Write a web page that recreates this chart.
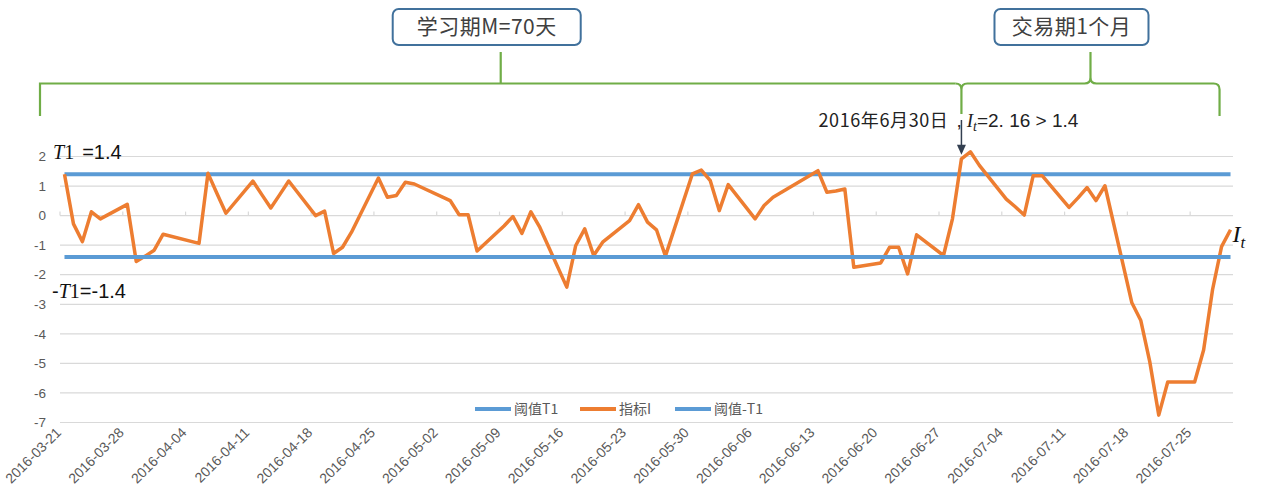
<!DOCTYPE html>
<html>
<head>
<meta charset="utf-8">
<script src="https://cdn.jsdelivr.net/npm/d3@7"></script>
<style>
  body { margin: 0; background: #fff; }
  text { font-family: 'Liberation Sans', 'Noto Sans CJK SC', sans-serif; }
  .cjk { font-family: 'Noto Sans CJK SC', sans-serif; }
  .math { font-family: 'Liberation Serif', 'DejaVu Serif', serif; }
</style>
</head>
<body>
<div id="d3-container"></div>
<script>
// trading days shown on the chart
const dates = [
  '2016-03-21', '2016-03-22', '2016-03-23', '2016-03-24', '2016-03-25',
  '2016-03-28', '2016-03-29', '2016-03-30', '2016-03-31', '2016-04-01',
  '2016-04-05', '2016-04-06', '2016-04-07', '2016-04-08',
  '2016-04-11', '2016-04-12', '2016-04-13', '2016-04-14', '2016-04-15',
  '2016-04-18', '2016-04-19', '2016-04-20', '2016-04-21', '2016-04-22',
  '2016-04-25', '2016-04-26', '2016-04-27', '2016-04-28', '2016-04-29',
  '2016-05-03', '2016-05-04', '2016-05-05', '2016-05-06',
  '2016-05-09', '2016-05-10', '2016-05-11', '2016-05-12', '2016-05-13',
  '2016-05-16', '2016-05-17', '2016-05-18', '2016-05-19', '2016-05-20',
  '2016-05-23', '2016-05-24', '2016-05-25', '2016-05-26', '2016-05-27',
  '2016-05-30', '2016-05-31', '2016-06-01', '2016-06-02', '2016-06-03',
  '2016-06-06', '2016-06-07', '2016-06-08',
  '2016-06-13', '2016-06-14', '2016-06-15', '2016-06-16', '2016-06-17',
  '2016-06-20', '2016-06-21', '2016-06-22', '2016-06-23', '2016-06-24',
  '2016-06-27', '2016-06-28', '2016-06-29', '2016-06-30', '2016-07-01',
  '2016-07-04', '2016-07-05', '2016-07-06', '2016-07-07', '2016-07-08',
  '2016-07-11', '2016-07-12', '2016-07-13', '2016-07-14', '2016-07-15',
  '2016-07-18', '2016-07-19', '2016-07-20', '2016-07-21', '2016-07-22',
  '2016-07-25', '2016-07-26', '2016-07-27', '2016-07-28', '2016-07-29',
]

// 指标I
const indexValues = [
  1.40, -0.28, -0.88, 0.13, -0.11,
  0.38, -1.55, -1.37, -1.17, -0.63,
  -0.94, 1.43, 0.75, 0.08,
  1.17, 0.71, 0.26, 0.71, 1.17,
  0.00, 0.15, -1.28, -1.07, -0.56,
  1.27, 0.62, 0.68, 1.13, 1.07,
  0.51, 0.03, 0.03, -1.20,
  -0.35, -0.03, -0.60, 0.13, -0.40,
  -2.42, -1.01, -0.45, -1.35, -0.90,
  -0.17, 0.37, -0.22, -0.48, -1.37,
  1.41, 1.54, 1.18, 0.17, 1.05,
  -0.11, 0.34, 0.62,
  1.52, 0.79, 0.83, 0.90, -1.75,
  -1.60, -1.07, -1.07, -1.97, -0.65,
  -1.35, -0.11, 1.92, 2.16, 1.70,
  0.56, 0.30, 0.02, 1.35, 1.35,
  0.28, 0.60, 0.95, 0.51, 1.01,
  -2.95, -3.55, -4.95, -6.75, -5.63,
  -5.63, -4.55, -2.50, -1.05, -0.48,
]

const threshold = 1.4
const seriesNames = ['阈值T1', '指标I', '阈值-T1']
const seriesColors = ['#5B9BD5', '#ED7D31', '#5B9BD5']
const yTicks = [2, 1, 0, -1, -2, -3, -4, -5, -6, -7]
const xTickLabels = [
  '2016-03-21', '2016-03-28', '2016-04-04', '2016-04-11', '2016-04-18',
  '2016-04-25', '2016-05-02', '2016-05-09', '2016-05-16', '2016-05-23',
  '2016-05-30', '2016-06-06', '2016-06-13', '2016-06-20', '2016-06-27',
  '2016-07-04', '2016-07-11', '2016-07-18', '2016-07-25',
]
const axisStart = '2016-03-21'
const axisEnd = '2016-07-30'
const learnLabel = '学习期M=70天'
const tradeLabel = '交易期1个月'
const signalDate = '2016-06-29'
const tradeEnd = '2016-07-28'

const params = {
  width: 1261,
  height: 501,
  left: 60,
  right: 1235,
  top: 156.5,
  bottom: 422.5,
}

const parse = d3.utcParse('%Y-%m-%d')
const halfDay = 12 * 3600 * 1000

function buildSeries() {
  const pts = dates.map((d, i) => ({ date: parse(d), value: indexValues[i] }))
  return [
    pts.map(p => ({ date: p.date, value: threshold })),
    pts,
    pts.map(p => ({ date: p.date, value: -threshold })),
  ]
}

function xScale() {
  return d3
    .scaleUtc()
    .domain([parse(axisStart), parse(axisEnd)])
    .range([params.left, params.right])
}

function yScale() {
  return d3
    .scaleLinear()
    .domain([-7, 2])
    .range([params.bottom, params.top])
}

function drawChart() {
  const svg = d3
    .select('#d3-container')
    .append('svg')
    .attr('width', params.width)
    .attr('height', params.height)
    .attr('viewBox', [0, 0, params.width, params.height])

  const x = xScale()
  const y = yScale()
  const xc = d => x(new Date(+d + halfDay))

  addGrid(svg, x, y)
  addLegend(svg)
  addLines(svg, buildSeries(), xc, y)
  addAnnotations(svg, x, xc, y)
}

function addGrid(svg, x, y) {
  svg
    .append('g')
    .selectAll('line')
    .data(yTicks)
    .join('line')
    .attr('x1', params.left)
    .attr('x2', params.right - 2)
    .attr('y1', d => y(d))
    .attr('y2', d => y(d))
    .attr('stroke', '#D9D9D9')
    .attr('stroke-width', 1.2)

  svg
    .append('g')
    .selectAll('text')
    .data(yTicks)
    .join('text')
    .attr('x', params.left - 14)
    .attr('y', d => y(d))
    .attr('dy', '0.35em')
    .attr('text-anchor', 'end')
    .attr('font-size', 13.5)
    .attr('fill', '#595959')
    .text(d => d)

  const ticks = xTickLabels.map(parse)

  svg
    .append('g')
    .selectAll('line')
    .data(ticks)
    .join('line')
    .attr('x1', d => x(d))
    .attr('x2', d => x(d))
    .attr('y1', y(0) - 4)
    .attr('y2', y(0))
    .attr('stroke', '#D9D9D9')
    .attr('stroke-width', 1.2)

  svg
    .append('g')
    .selectAll('text')
    .data(ticks)
    .join('text')
    .attr('transform', d => `translate(${x(d) + 2}, ${params.bottom + 11}) rotate(-45)`)
    .attr('text-anchor', 'end')
    .attr('font-size', 14)
    .attr('fill', '#595959')
    .text((d, i) => xTickLabels[i])
}

function addLines(svg, series, xc, y) {
  const line = d3
    .line()
    .x(d => xc(d.date))
    .y(d => y(d.value))

  svg
    .append('g')
    .selectAll('path')
    .data(series)
    .join('path')
    .attr('fill', 'none')
    .attr('stroke', (d, i) => seriesColors[i])
    .attr('stroke-width', (d, i) => (i === 1 ? 3.5 : 4))
    .attr('stroke-linejoin', 'round')
    .attr('d', line)
}

function addLegend(svg) {
  const offsets = [475, 580, 675]
  const g = svg
    .append('g')
    .attr('transform', `translate(0, 409)`)

  const item = g
    .selectAll('g')
    .data(seriesNames)
    .join('g')
    .attr('transform', (d, i) => `translate(${offsets[i]}, 0)`)

  item
    .append('line')
    .attr('x1', 0)
    .attr('x2', 36)
    .attr('stroke', (d, i) => seriesColors[i])
    .attr('stroke-width', 4)

  item
    .append('text')
    .attr('class', 'cjk')
    .attr('x', 39)
    .attr('dy', '0.35em')
    .attr('font-size', 14)
    .attr('fill', '#595959')
    .text(d => d)
}

function addAnnotations(svg, x, xc, y) {
  const green = '#70AD47'
  const barY = 83.5
  const left = params.left - 20
  const split = xc(parse(signalDate))
  const right = xc(parse(tradeEnd)) - 2
  const mid1 = (left + split) / 2
  const mid2 = (split + right) / 2

  // learning period bracket
  svg
    .append('path')
    .attr('d', `M${left},116 V${barY} H${split - 6} M${mid1},${barY} V52`)
    .attr('fill', 'none')
    .attr('stroke', green)
    .attr('stroke-width', 2.2)

  // trading period brace
  const r = 6
  svg
    .append('path')
    .attr(
      'd',
      `M${split - 6},${barY} Q${split},${barY} ${split},${barY + r} V114 ` +
        `M${split},${barY + r} Q${split},${barY} ${split + r},${barY} H${mid2 - r} ` +
        `Q${mid2},${barY} ${mid2},${barY - r} V52 M${mid2},${barY - r} ` +
        `Q${mid2},${barY} ${mid2 + r},${barY} H${right - r} ` +
        `Q${right},${barY} ${right},${barY + r} V116`,
    )
    .attr('fill', 'none')
    .attr('stroke', green)
    .attr('stroke-width', 2.2)

  addBox(svg, learnLabel, mid1 - 14, 188)
  addBox(svg, tradeLabel, mid2 - 19, 154)

  // arrow to the signal
  const tipY = y(indexValues[dates.indexOf(signalDate)]) - 4
  svg
    .append('line')
    .attr('x1', split)
    .attr('x2', split)
    .attr('y1', 120)
    .attr('y2', tipY - 8)
    .attr('stroke', '#333F50')
    .attr('stroke-width', 1.5)
  svg
    .append('path')
    .attr('d', `M${split - 4.5},${tipY - 10} L${split + 4.5},${tipY - 10} L${split},${tipY} Z`)
    .attr('fill', '#333F50')

  svg
    .append('text')
    .attr('class', 'cjk')
    .attr('x', split - 13)
    .attr('y', 127)
    .attr('text-anchor', 'end')
    .attr('font-size', 18)
    .attr('letter-spacing', 0.6)
    .attr('fill', '#222')
    .text('2016年6月30日')

  const sig = svg
    .append('text')
    .attr('x', split - 5)
    .attr('y', 127)
    .attr('font-size', 19)
    .attr('fill', '#222')
  sig.append('tspan').text(',')
  sig.append('tspan').attr('class', 'math').attr('font-style', 'italic').attr('dx', 5).text('I')
  sig.append('tspan').attr('class', 'math').attr('font-style', 'italic').attr('font-size', 14).attr('dy', 4).text('t')
  sig.append('tspan').attr('dy', -4).text('=2. 16 > 1.4')

  // threshold labels
  const t1 = svg
    .append('text')
    .attr('x', 53)
    .attr('y', 159)
    .attr('font-size', 20)
    .attr('fill', '#111')
  t1.append('tspan').attr('class', 'math').attr('font-style', 'italic').text('T')
  t1.append('tspan').attr('class', 'math').text('1 ')
  t1.append('tspan').attr('dx', 3).text('=' + threshold)

  const t2 = svg
    .append('text')
    .attr('x', 52)
    .attr('y', 298)
    .attr('font-size', 20)
    .attr('fill', '#111')
  t2.append('tspan').text('-')
  t2.append('tspan').attr('class', 'math').attr('font-style', 'italic').text('T')
  t2.append('tspan').attr('class', 'math').text('1')
  t2.append('tspan').text('=-' + threshold)

  const last = dates.length - 1
  const it = svg
    .append('text')
    .attr('class', 'math')
    .attr('x', xc(parse(dates[last])) + 2)
    .attr('y', y(indexValues[last]) + 12)
    .attr('font-size', 24)
    .attr('font-style', 'italic')
    .attr('fill', '#111')
  it.append('tspan').text('I')
  it.append('tspan').attr('font-size', 17).attr('dy', 6).text('t')
}

function addBox(svg, label, cx, w) {
  svg
    .append('rect')
    .attr('x', cx - w / 2)
    .attr('y', 9)
    .attr('width', w)
    .attr('height', 36)
    .attr('rx', 6)
    .attr('fill', '#fff')
    .attr('stroke', '#41719C')
    .attr('stroke-width', 2)

  svg
    .append('text')
    .attr('class', 'cjk')
    .attr('x', cx)
    .attr('y', 27)
    .attr('dy', '0.35em')
    .attr('text-anchor', 'middle')
    .attr('font-size', 21)
    .attr('letter-spacing', 0.5)
    .attr('fill', '#404040')
    .text(label)
}

drawChart()
</script>
</body>
</html>
